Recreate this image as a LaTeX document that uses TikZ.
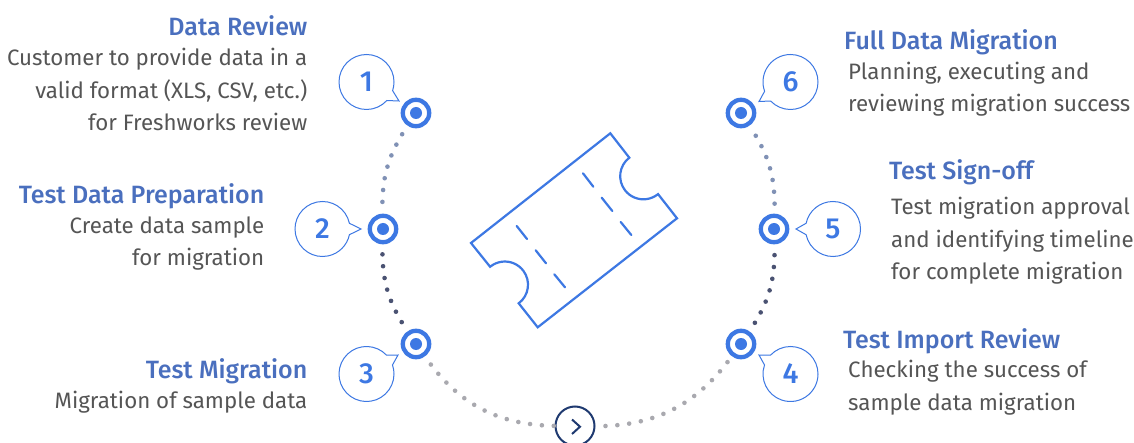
\documentclass[tikz,border=0pt]{standalone}
\usepackage{fontspec}
\setmainfont{Fira Sans}
\newfontfamily\medfont{Fira Sans Medium}
\usetikzlibrary{shapes.callouts}
\definecolor{bl}{HTML}{3D78E3}
\definecolor{head}{HTML}{4A6FBE}
\definecolor{body}{HTML}{555555}
\definecolor{navy}{HTML}{1F3A70}
\definecolor{dotA}{HTML}{8091B5}
\definecolor{dotB}{HTML}{4A5272}
\definecolor{dotC}{HTML}{A9A9AF}
\tikzset{
 hub/.style={circle,draw=bl,fill=white,line width=4.3pt,minimum size=26.4pt,inner sep=0pt,
   path picture={\fill[bl] (path picture bounding box.center) circle (6pt);}},
 bubble/.style={ellipse callout,draw=bl,fill=white,line width=1pt,minimum width=55pt,minimum height=55pt,inner sep=0pt,
   callout pointer arc=24,text=bl,font=\medfont\fontsize{29}{30}\selectfont},
 dots/.style={line cap=round,line width=4.6pt,dash pattern=on 0pt off 11.9pt,dash phase=1.9pt},
 hd/.style={text=head,font=\medfont\fontsize{25}{27}\selectfont,inner sep=0pt},
 bd/.style={text=body,font=\fontsize{22.3}{32.5}\selectfont,inner sep=0pt},
 tick/.style={draw=bl,line width=2.2pt,line join=miter},
}
\begin{document}
\begin{tikzpicture}[x=1pt,y=-1pt]
\useasboundingbox (0,0) rectangle (1134,443);
\clip (0,0) rectangle (1134,443);
\fill[white] (0,0) rectangle (1134,443);
% hubs
\node[hub] (n1) at (416,113) {};
\node[hub] (n2) at (383,229) {};
\node[hub] (n3) at (416,344) {};
\node[hub] (n4) at (741,344) {};
\node[hub] (n5) at (774,229) {};
\node[hub] (n6) at (741,113) {};
\node[circle,draw=navy,fill=white,line width=2pt,minimum size=39pt,inner sep=0pt] (go) at (575,426) {};
% dotted connectors
\draw[dots,dotA] (n1) to[bend right=17.7] (n2);
\draw[dots,dotB] (n2) to[bend right=17.7] (n3);
\draw[dots,dotC] (n3) to[bend right=27] (go);
\draw[dots,dotC] (go) to[bend right=27] (n4);
\draw[dots,dotB] (n4) to[bend right=17.7] (n5);
\draw[dots,dotA] (n5) to[bend right=17.7] (n6);
\draw[navy,line width=2pt] (572,419.5) -- (580,426.7) -- (572,434);
% bubbles
\node[bubble,callout absolute pointer={(399,101)}] (b1) at (366.5,82) {1};
\node[bubble,callout absolute pointer={(361,229)}] (b2) at (322.5,229) {2};
\node[bubble,callout absolute pointer={(398,355)}] (b3) at (366.5,374) {3};
\node[bubble,callout absolute pointer={(759,355)}] (b4) at (790.5,374) {4};
\node[bubble,callout absolute pointer={(796,229)}] (b5) at (833,229) {5};
\node[bubble,callout absolute pointer={(759,101.5)}] (b6) at (790.5,82) {6};
% ticket
\begin{scope}[y=1pt]
\draw[tick] (610.3,-133.3) -- (629.3,-157.7)
  arc[start angle=127.4,end angle=309.2,radius=23.2pt]
  -- (677,-218.3) -- (537.7,-327.3) -- (518.7,-303.3)
  arc[start angle=-53.2,end angle=129.3,radius=23.2pt]
  -- (471,-243) -- cycle;
\draw[tick,line cap=round] (516.7,-226) -- (527,-239) (535.7,-250.3) -- (546,-263.3) (554.3,-274.3) -- (565,-287.3);
\draw[tick,line cap=round] (583,-173.3) -- (593.3,-186.7) (601.7,-197.7) -- (612.3,-211) (620.7,-222) -- (631.3,-235);
\end{scope}
% text
\node[hd,anchor=base east] (h1) at (307.5,35.5) {Data Review};
\node[bd,anchor=base east,align=right] (t1) at (307.5,131) {Customer to provide data in a\\valid format (XLS, CSV, etc.)\\for Freshworks review};
\node[hd,anchor=base east] (h2) at (264.5,203.5) {Test Data Preparation};
\node[bd,anchor=base east,align=right] (t2) at (264.5,266) {Create data sample\\for migration};
\node[hd,anchor=base east] (h3) at (307.5,378) {Test Migration};
\node[bd,anchor=base east,align=right] (t3) at (307.5,408) {Migration of sample data};
\node[hd,anchor=base west] (h6) at (844,49.5) {Full Data Migration};
\node[bd,anchor=base west,align=left] (t6) at (848,112) {Planning, executing and\\reviewing migration success};
\node[hd,anchor=base west] (h5) at (889,180) {Test Sign-off};
\node[bd,anchor=base west,align=left] (t5) at (891,280) {Test migration approval\\and identifying timeline\\for complete migration};
\node[hd,anchor=base west] (h4) at (843,348) {Test Import Review};
\node[bd,anchor=base west,align=left] (t4) at (848,410) {Checking the success of\\sample data migration};
\end{tikzpicture}
\end{document}
